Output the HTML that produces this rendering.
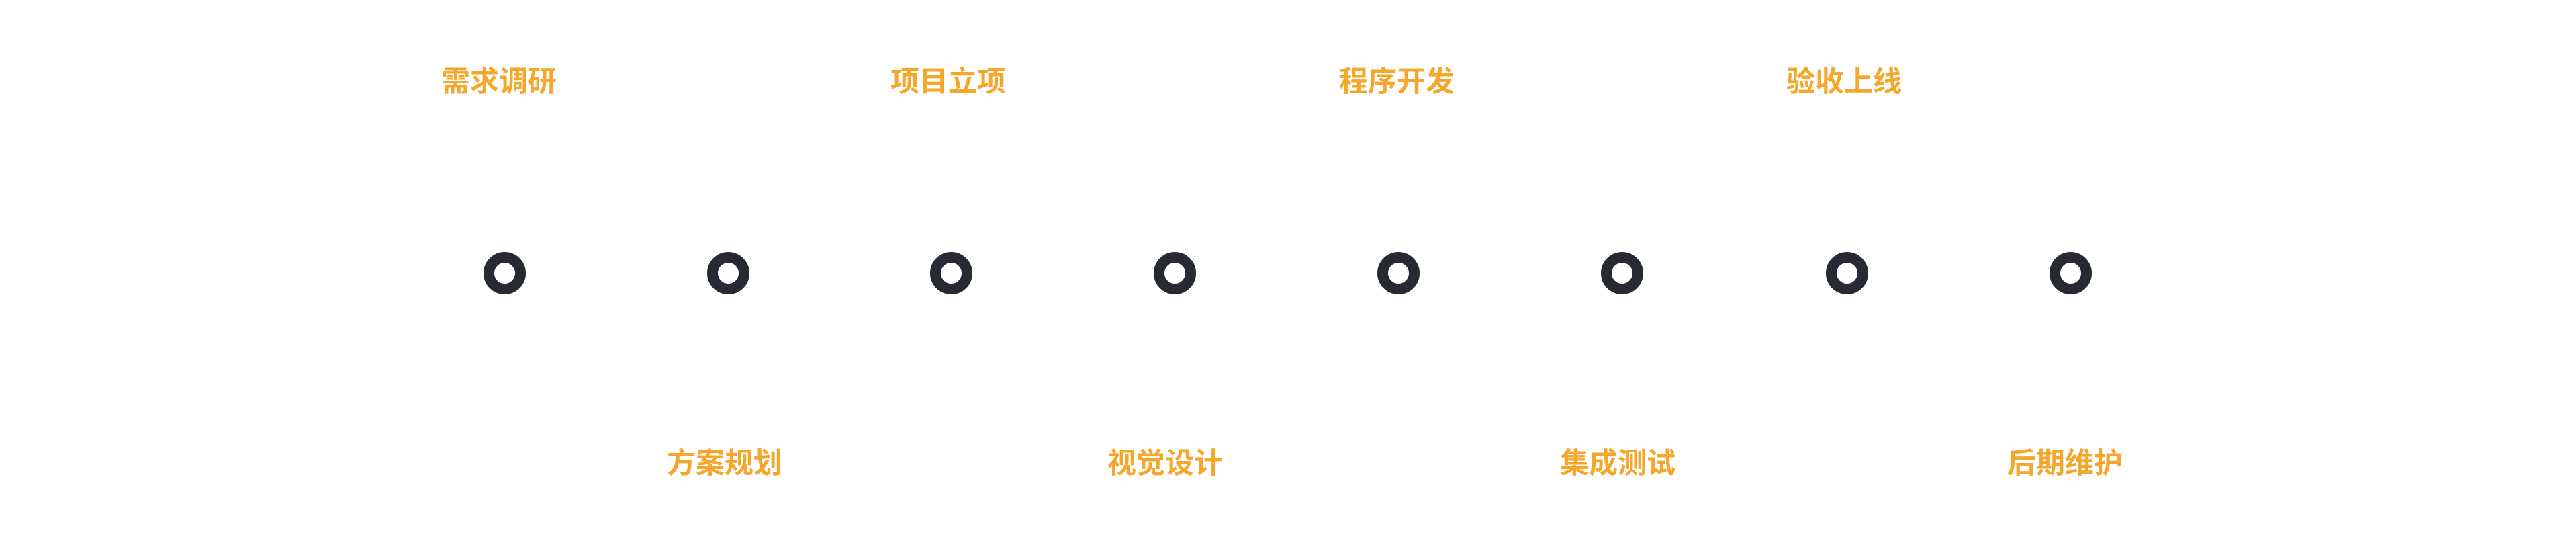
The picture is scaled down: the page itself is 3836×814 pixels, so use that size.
<!DOCTYPE html>
<html><head><meta charset="utf-8"><style>
html,body{margin:0;padding:0;background:#fff;}
body{width:3836px;height:814px;position:relative;overflow:hidden;}
.c{position:absolute;width:31px;height:31px;border:16px solid #282a33;border-radius:50%;top:375px;}
.t{position:absolute;width:300px;text-align:center;font-family:"Liberation Sans","Noto Sans CJK SC",sans-serif;font-weight:bold;font-size:43px;line-height:50px;color:#f5a72b;}
.top{top:97px}.bot{top:665px}
</style></head><body>
<div class="c" style="left:720px"></div>
<div class="c" style="left:1053px"></div>
<div class="c" style="left:1385px"></div>
<div class="c" style="left:1718px"></div>
<div class="c" style="left:2051px"></div>
<div class="c" style="left:2384px"></div>
<div class="c" style="left:2719px"></div>
<div class="c" style="left:3052px"></div>
<div class="t top" style="left:593px">需求调研</div>
<div class="t bot" style="left:929px">方案规划</div>
<div class="t top" style="left:1262px">项目立项</div>
<div class="t bot" style="left:1585px">视觉设计</div>
<div class="t top" style="left:1930px">程序开发</div>
<div class="t bot" style="left:2259px">集成测试</div>
<div class="t top" style="left:2596px">验收上线</div>
<div class="t bot" style="left:2925px">后期维护</div>
</body></html>
